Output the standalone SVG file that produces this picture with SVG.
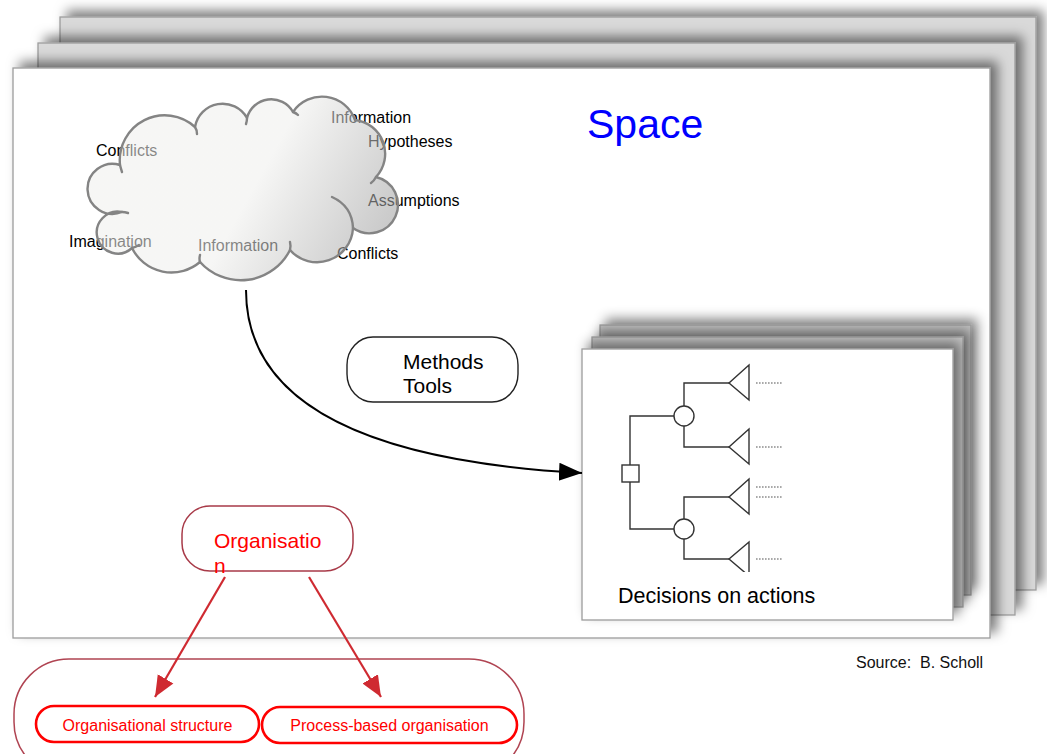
<svg xmlns="http://www.w3.org/2000/svg" width="1047" height="754" viewBox="0 0 1047 754">
  <defs>
    <style>
      .page { stroke: #9c9c9c; stroke-width: 1.3; }
      .page-gray { fill: #d9d9d9; }
      .sheet-gray { fill: #c2c2c2; }
      .page-white { fill: #ffffff; }
      .txt { font-family: "Liberation Sans", Arial, sans-serif; }
      .cloud-label { font-size: 16px; fill: #000; }
      .tree { stroke: #333; stroke-width: 1.4; fill: none; }
      .tree-node { stroke: #333; stroke-width: 1.4; fill: #fff; }
      .dots { stroke: #555; stroke-width: 1.2; stroke-dasharray: 1.6 1.4; }
      .org-line { stroke: #cf2a31; stroke-width: 2.2; fill: none; }
      .red-node { fill: #fff; stroke: #ff0000; stroke-width: 2.6; }
      .red-text { fill: #ff0000; font-size: 16px; text-anchor: middle; }
    </style>
    <filter id="pageShadow" x="-5%" y="-10%" width="112%" height="118%">
      <feDropShadow dx="7" dy="-6" stdDeviation="6" flood-color="#000" flood-opacity="0.5"/>
    </filter>
    <filter id="sheetShadow" x="-8%" y="-15%" width="120%" height="125%">
      <feDropShadow dx="6" dy="-6" stdDeviation="6" flood-color="#000" flood-opacity="0.45"/>
    </filter>
    <linearGradient id="cloudFill" gradientUnits="userSpaceOnUse" x1="255" y1="185" x2="372" y2="250">
      <stop offset="0" stop-color="#efefed"/>
      <stop offset="1" stop-color="#a2a2a2"/>
    </linearGradient>
    <marker id="blackHead" markerUnits="userSpaceOnUse" markerWidth="24" markerHeight="20" refX="23" refY="10" orient="auto">
      <path d="M0,1 L23,10 L0,19 Z" fill="#000"/>
    </marker>
    <marker id="redHead" markerUnits="userSpaceOnUse" markerWidth="22" markerHeight="20" refX="21" refY="10" orient="auto">
      <path d="M0,1 L21,10 L0,19 Z" fill="#cf2a31"/>
    </marker>
    <clipPath id="treeClip">
      <rect x="600" y="355" width="200" height="217"/>
    </clipPath>
  </defs>

  <rect width="1047" height="754" fill="#ffffff"/>

  <!-- stacked sheets of the planning space -->
  <g id="page-back">
    <rect class="page page-gray" x="60" y="17" width="976" height="573" filter="url(#pageShadow)"/>
  </g>
  <g id="page-middle">
    <rect class="page page-gray" x="38" y="43" width="977" height="572" filter="url(#pageShadow)"/>
  </g>
  <g id="space">
    <rect class="page page-white" x="13" y="68" width="977" height="570" filter="url(#pageShadow)"/>
    <text class="txt" x="587" y="138" font-size="41" fill="#0000ff">Space</text>
  </g>

  <!-- cloud of knowledge; labels sit underneath the translucent cloud -->
  <g id="cloud">
    <g class="txt cloud-label">
      <text x="331" y="123">Information</text>
      <text x="368" y="147">Hypotheses</text>
      <text x="96" y="156">Conflicts</text>
      <text x="368" y="206">Assumptions</text>
      <text x="69" y="247">Imagination</text>
      <text x="198" y="251">Information</text>
      <text x="337" y="259">Conflicts</text>
    </g>
    <path d="M120,165 A45,45 0 0 1 195,127 A28,28 0 0 1 247,118 A25,25 0 0 1 293,112 A35,35 0 0 1 355,120 A34,34 0 0 1 376,177 A28.5,28.5 0 1 1 353,228 A36,36 0 0 1 290,250 A55,55 0 0 1 200,262 A44,44 0 0 1 132,248 A21,21 0 1 1 122,212 A25,25 0 1 1 120,165 Z"
          fill="url(#cloudFill)" fill-opacity="0.56" stroke="#848484" stroke-width="2.4" stroke-linejoin="round"/>
    <g fill="none" stroke="#848484" stroke-width="2.4" stroke-linecap="round">
      <path d="M120,165 q1,4 2,7"/>
      <path d="M195,127 q2,3 2,7"/>
      <path d="M247,118 q0,3 -1,6"/>
      <path d="M293,112 q3,1 5,3"/>
      <path d="M376,177 q-2,4 -5,6"/>
      <path d="M332,197 Q352,206 353,228"/>
      <path d="M290,250 q1,-4 0,-8"/>
      <path d="M200,262 q-1,-3 0,-7"/>
      <path d="M132,248 q4,-1 7,-3"/>
      <path d="M122,212 q3,0 6,1"/>
    </g>
  </g>

  <g id="methods-tools">
    <rect x="347" y="337" width="171" height="65" rx="26" ry="28" fill="#fff" stroke="#222" stroke-width="1.4"/>
    <text class="txt" x="403" y="369" font-size="21" fill="#000">Methods</text>
    <text class="txt" x="403" y="393" font-size="21" fill="#000">Tools</text>
  </g>

  <!-- stacked sheets of decisions -->
  <g id="sheet-back">
    <rect class="page sheet-gray" x="600" y="325" width="371" height="270" filter="url(#sheetShadow)"/>
  </g>
  <g id="sheet-middle">
    <rect class="page sheet-gray" x="592" y="337" width="371" height="270" filter="url(#sheetShadow)"/>
  </g>
  <g id="decisions">
    <rect class="page page-white" x="582" y="349" width="371" height="271" filter="url(#sheetShadow)"/>
    <g id="decision-tree">
      <path class="tree" d="M630,465 V416 H674 M630,482 V529 H674"/>
      <path class="tree" d="M684,406 V383 H729 M684,426 V447 H729 M684,519 V497 H729 M684,539 V559 H729"/>
      <rect class="tree-node" x="622" y="465" width="17" height="17"/>
      <circle class="tree-node" cx="684" cy="416" r="10"/>
      <circle class="tree-node" cx="684" cy="529" r="10"/>
      <path class="tree" d="M749,365 L729,383 L749,400 Z"/>
      <path class="tree" d="M749,429 L729,447 L749,464 Z"/>
      <path class="tree" d="M749,479 L729,497 L749,514 Z"/>
      <path class="tree" d="M749,542 L729,559 L749,576 Z" clip-path="url(#treeClip)"/>
      <path class="dots" d="M756,383 H782 M756,447 H782 M756,487 H782 M756,497 H782 M756,559 H782"/>
    </g>
    <text class="txt" x="618" y="603" font-size="21.5" fill="#000">Decisions on actions</text>
  </g>

  <g id="organisation">
    <rect x="182" y="506" width="171" height="65" rx="28" ry="28" fill="#fff" stroke="#a83a48" stroke-width="1.5"/>
    <text class="txt" x="214" y="548" font-size="21" fill="#ff0000">Organisatio</text>
    <text class="txt" x="214" y="573" font-size="21" fill="#ff0000">n</text>
  </g>

  <g id="organisation-forms">
    <rect x="14" y="659" width="510" height="118" rx="55" ry="55" fill="none" stroke="#b04452" stroke-width="1.5"/>
  </g>
  <g id="organisational-structure">
    <rect class="red-node" x="36" y="706" width="223" height="36" rx="18"/>
    <text class="txt red-text" x="147.5" y="731">Organisational structure</text>
  </g>
  <g id="process-based-organisation">
    <rect class="red-node" x="262" y="707" width="255" height="36" rx="18"/>
    <text class="txt red-text" x="389.5" y="731">Process-based organisation</text>
  </g>

  <g id="connectors">
    <path d="M246,290 C246,410 380,462 582,473" fill="none" stroke="#000" stroke-width="2" marker-end="url(#blackHead)"/>
    <path class="org-line" d="M225,577 L155,697" marker-end="url(#redHead)"/>
    <path class="org-line" d="M309,577 L381,697" marker-end="url(#redHead)"/>
  </g>

  <text class="txt" x="856" y="668" font-size="16" fill="#111">Source:&#160; B. Scholl</text>
</svg>
